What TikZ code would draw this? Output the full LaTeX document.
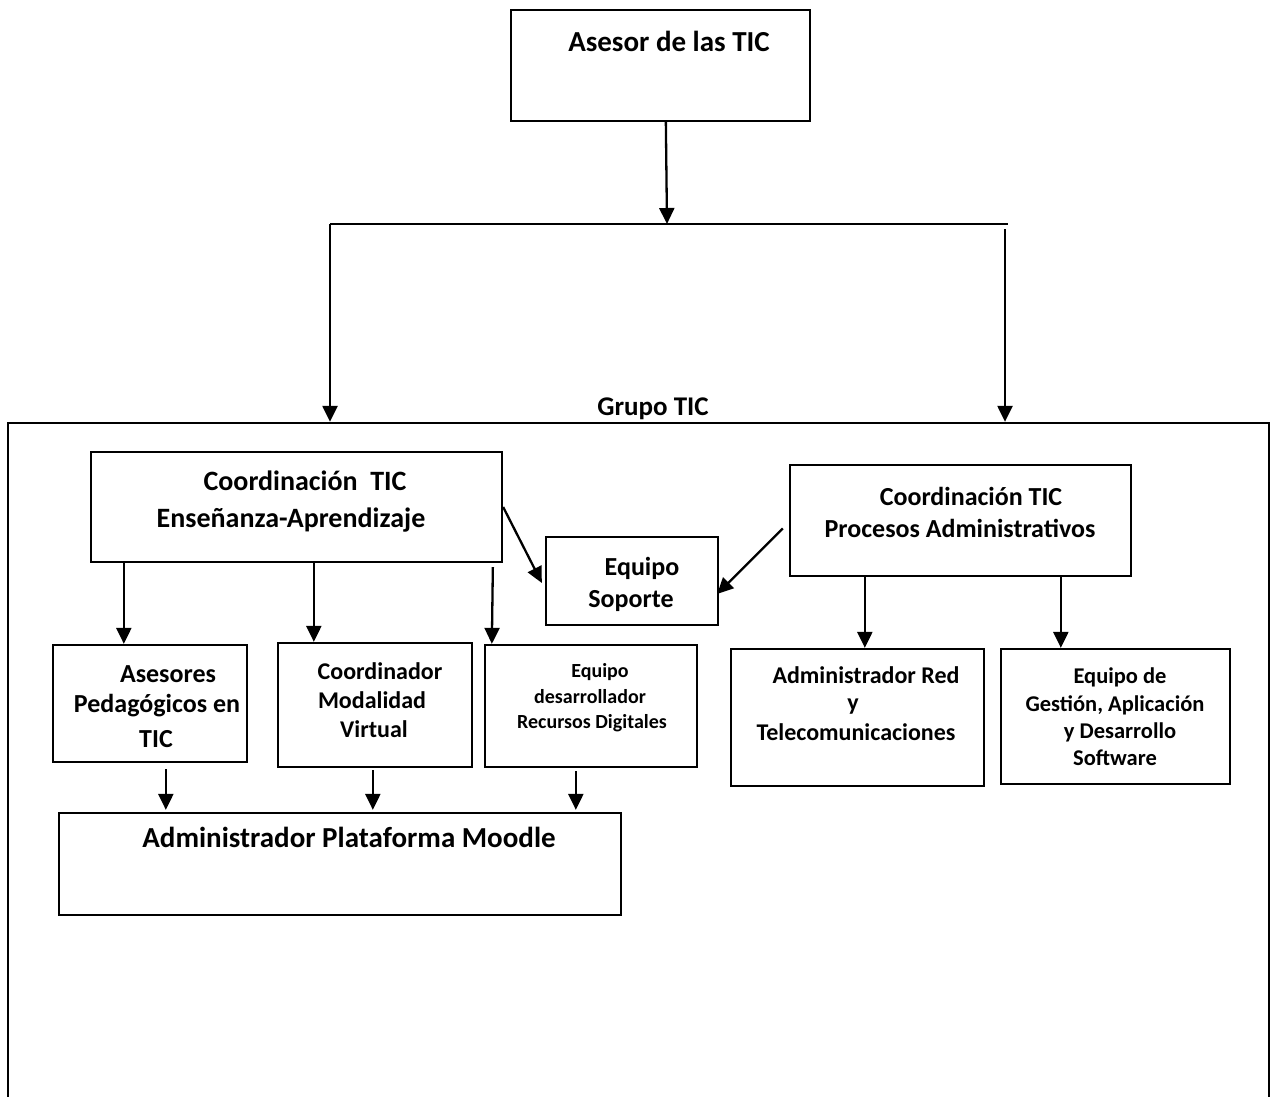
\documentclass[tikz,border=0pt]{standalone}
\usepackage{fontspec}
\setmainfont{Carlito}
\usetikzlibrary{arrows.meta,calc}
\newcommand\fsz[1]{\fontsize{#1}{#1}\selectfont\bfseries}
\begin{document}
\begin{tikzpicture}[x=1pt,y=-1pt,
  box/.style={draw,line width=2.3pt,rectangle,inner sep=0pt},
  arr/.style={line width=2.3pt,-{Triangle[length=16pt,width=15pt]}},
  ln/.style={line width=2.3pt},
  t/.style={inner sep=0pt,anchor=base,text=black}]
\useasboundingbox[fill=white] (0,0) rectangle (1272,1097);
% boxes
\node[box,minimum width=299pt,minimum height=111pt] (top) at (660.5,65.5) {};
\node[box,minimum width=1261pt,minimum height=700pt] (grupo) at (638.5,773) {};
\node[box,minimum width=411pt,minimum height=110pt] (ea) at (296.5,507) {};
\node[box,minimum width=172pt,minimum height=88pt] (sop) at (632,581) {};
\node[box,minimum width=341pt,minimum height=111pt] (pa) at (960.5,520.5) {};
\node[box,minimum width=194pt,minimum height=117pt] (ap) at (150,703.5) {};
\node[box,minimum width=194pt,minimum height=124pt] (cmv) at (375,705) {};
\node[box,minimum width=212pt,minimum height=122pt] (edr) at (591,706) {};
\node[box,minimum width=562pt,minimum height=102pt] (moo) at (340,864) {};
\node[box,minimum width=253pt,minimum height=137pt] (ar) at (857.5,717.5) {};
\node[box,minimum width=229pt,minimum height=135pt] (eg) at (1115.5,716.5) {};
% texts
\node[t,font=\fsz{29}] (ttop) at (669,52) {Asesor de las TIC};
\node[t,font=\fsz{27}] (tgrupo) at (653,415) {Grupo TIC};
\node[t,font=\fsz{28}] (tea1) at (305,490) {Coordinación\ \ TIC};
\node[t,font=\fsz{28}] (tea2) at (291,527) {Enseñanza-Aprendizaje};
\node[t,font=\fsz{26}] (tsop1) at (642,575) {Equipo};
\node[t,font=\fsz{26}] (tsop2) at (631,607) {Soporte};
\node[t,font=\fsz{26}] (tpa1) at (971,505) {Coordinación TIC};
\node[t,font=\fsz{26}] (tpa2) at (960,537) {Procesos Administrativos};
\node[t,font=\fsz{26}] (tap1) at (168,682) {Asesores};
\node[t,font=\fsz{26}] (tap2) at (157,712) {Pedagógicos en};
\node[t,font=\fsz{26}] (tap3) at (156,747) {TIC};
\node[t,font=\fsz{24}] (tcmv1) at (380,679) {Coordinador};
\node[t,font=\fsz{24}] (tcmv2) at (372,708) {Modalidad};
\node[t,font=\fsz{24}] (tcmv3) at (374,737) {Virtual};
\node[t,font=\fsz{20}] (tedr1) at (600,677) {Equipo};
\node[t,font=\fsz{20}] (tedr2) at (590,703) {desarrollador};
\node[t,font=\fsz{20}] (tedr3) at (592,728) {Recursos Digitales};
\node[t,font=\fsz{29}] (tmoo) at (349,847) {Administrador Plataforma Moodle};
\node[t,font=\fsz{24}] (tar1) at (866,683) {Administrador Red};
\node[t,font=\fsz{24}] (tar2) at (853,710) {y};
\node[t,font=\fsz{24}] (tar3) at (856,740) {Telecomunicaciones};
\node[t,font=\fsz{22.5}] (teg1) at (1120,683) {Equipo de};
\node[t,font=\fsz{22.5}] (teg2) at (1115,711) {Gestión, Aplicación};
\node[t,font=\fsz{22.5}] (teg3) at (1120,738) {y Desarrollo};
\node[t,font=\fsz{22.5}] (teg4) at (1115,765) {Software};
% bar
\coordinate (barmid) at (667,224);
\coordinate (barL) at (330,224);
\coordinate (barR) at (1008,224);
\coordinate (barRv) at (1005,229);
\draw[ln] (barL) -- (barR);
\draw[arr] ([xshift=156pt]top.south west) -- (barmid);
\draw[arr] (barL) -- (barL |- grupo.north);
\draw[arr] (barRv) -- (barRv |- grupo.north);
% connectors
\draw[arr] ([xshift=34pt]ea.south west) -- ([xshift=72pt]ap.north west);
\draw[arr] ([xshift=224pt]ea.south west) -- ([xshift=37pt]cmv.north west);
\draw[arr] ([xshift=403pt,yshift=-4pt]ea.south west) -- ([xshift=8pt]edr.north west);
\draw[arr] (ea.east) -- ([xshift=-3pt,yshift=-2pt]sop.west);
\draw[arr] ([xshift=-6pt,yshift=-8pt]pa.west) -- ([xshift=-2pt,yshift=-13pt]sop.east);
\draw[arr] ([xshift=76pt]pa.south west) -- ([xshift=135pt]ar.north west);
\draw[arr] ([xshift=272pt]pa.south west) -- ([xshift=61pt]eg.north west);
\draw[arr] ([xshift=114pt,yshift=-6pt]ap.south west) -- ([xshift=108pt,yshift=2pt]moo.north west);
\draw[arr] ([xshift=96pt,yshift=-2pt]cmv.south west) -- ([xshift=315pt,yshift=2pt]moo.north west);
\draw[arr] ([xshift=92pt,yshift=-3pt]edr.south west) -- ([xshift=518pt,yshift=2pt]moo.north west);
\end{tikzpicture}
\end{document}
